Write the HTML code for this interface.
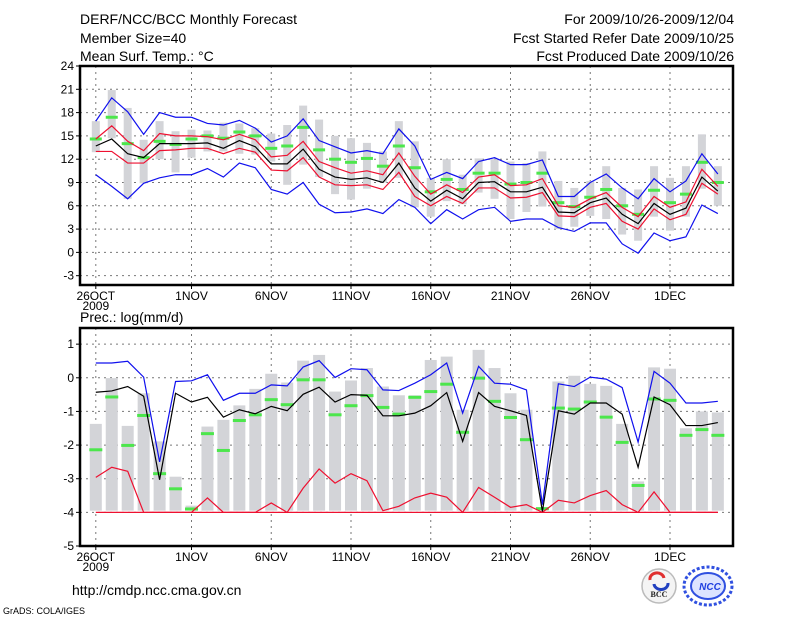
<!DOCTYPE html>
<html><head><meta charset="utf-8">
<style>
html,body{margin:0;padding:0;background:#fff;}
svg{display:block;font-family:"Liberation Sans",sans-serif;}
</style></head>
<body>
<svg id="chart" width="800" height="618" viewBox="0 0 800 618" xmlns="http://www.w3.org/2000/svg">
<g font-size="14" fill="#000">
<text x="80" y="24">DERF/NCC/BCC Monthly Forecast</text>
<text x="80" y="43">Member Size=40</text>
<text x="80" y="61">Mean Surf. Temp.: °C</text>
<text x="734" y="24" text-anchor="end">For 2009/10/26-2009/12/04</text>
<text x="734" y="43" text-anchor="end">Fcst Started Refer Date 2009/10/25</text>
<text x="734" y="61" text-anchor="end">Fcst Produced Date 2009/10/26</text>
<text x="80" y="322">Prec.: log(mm/d)</text>
</g>
<g id="topPanel"></g>
<g id="botPanel"></g>
<text x="72" y="595" font-size="14">http://cmdp.ncc.cma.gov.cn</text>
<text x="3" y="614" font-size="9">GrADS: COLA/IGES</text>
<g>
<circle cx="659" cy="586" r="17" fill="#f4f4f4" stroke="#bbb" stroke-width="1.5"/>
<path d="M650 580 a7 6 0 0 1 14 -2" fill="none" stroke="#e03030" stroke-width="3"/>
<path d="M654 584 a7 6 0 0 0 14 -1" fill="none" stroke="#2040c0" stroke-width="3"/>
<text x="659" y="597" font-size="8" font-weight="bold" text-anchor="middle" font-family="Liberation Serif,serif" fill="#222">BCC</text>
</g>
<g>
<ellipse cx="708" cy="586" rx="24" ry="19" fill="none" stroke="#3050e0" stroke-width="3" stroke-dasharray="3 2"/>
<ellipse cx="708" cy="586" rx="17" ry="13" fill="#dde4ff" stroke="#3050e0" stroke-width="2"/>
<text x="710" y="590" font-size="10" font-weight="bold" font-style="italic" text-anchor="middle" fill="#2040e0">NCC</text>
</g>
</svg>
<script>
// ---- shared x categories ----
const days = ['26OCT','27OCT','28OCT','29OCT','30OCT','31OCT','1NOV','2NOV','3NOV','4NOV','5NOV','6NOV','7NOV','8NOV','9NOV','10NOV','11NOV','12NOV','13NOV','14NOV','15NOV','16NOV','17NOV','18NOV','19NOV','20NOV','21NOV','22NOV','23NOV','24NOV','25NOV','26NOV','27NOV','28NOV','29NOV','30NOV','1DEC','2DEC','3DEC','4DEC'];
const xTickLabels = ['26OCT','1NOV','6NOV','11NOV','16NOV','21NOV','26NOV','1DEC'];
const xTickIdx = [0,6,11,16,21,26,31,36];
// ---- temperature panel ----
const tTicks = [24,21,18,15,12,9,6,3,0,-3];
const tGrayHi = [16.9,20.9,18.6,14.5,16.9,15.6,15.8,15.7,16.7,16.6,16.0,15.3,16.4,18.9,17.1,15.0,14.7,14.1,13.0,16.9,14.3,9.6,12.0,10.0,12.1,12.0,11.7,11.5,13.0,9.2,8.3,9.2,11.1,8.3,8.1,11.1,9.6,11.1,15.2,11.1];
const tGrayLo = [12.9,14.7,6.9,8.9,12.0,10.3,12.2,13.0,13.0,12.7,12.6,11.7,8.7,11.3,9.7,7.5,6.8,8.2,9.0,9.6,5.8,4.6,6.6,6.2,7.7,6.9,4.3,5.2,5.9,3.0,3.3,4.7,4.3,2.3,1.5,4.6,2.8,4.6,8.2,6.0];
const tGreen = [14.6,17.4,14.0,12.2,14.3,13.9,14.6,15.0,14.7,15.5,15.0,13.4,13.7,16.1,13.2,12.0,11.6,12.1,11.1,13.7,10.9,7.8,9.4,8.1,10.2,10.2,8.8,9.0,10.2,6.4,5.9,7.1,8.1,6.0,4.9,8.0,6.4,7.5,11.6,9.0];
const tMean = [13.7,14.6,12.7,12.2,14.0,14.0,14.0,14.1,13.4,14.4,13.6,11.4,11.4,13.3,10.7,9.7,9.4,9.6,9.0,11.5,8.3,6.6,8.0,6.9,9.0,9.1,7.8,7.8,8.4,5.2,5.1,6.4,7.0,4.9,3.7,6.3,4.9,5.7,9.7,7.9];
const tRedHi = [14.6,16.3,14.3,13.1,15.3,15.0,15.0,14.9,14.5,15.2,14.5,12.3,12.5,14.3,11.7,10.9,10.2,10.5,10.0,12.8,9.8,7.5,8.7,7.7,9.7,10.0,8.6,8.7,9.5,6.0,5.8,6.9,7.7,5.8,4.6,7.2,5.8,6.5,10.7,8.5];
const tRedLo = [13.0,13.0,11.5,11.5,13.1,13.2,13.4,13.4,12.7,13.4,12.9,10.6,10.5,12.2,9.7,8.7,8.6,8.7,8.1,10.3,7.2,6.0,7.2,6.3,8.3,8.3,7.0,7.1,7.7,4.7,4.6,5.8,6.3,4.0,3.0,5.6,4.2,4.9,8.9,7.5];
const tBlueHi = [16.9,19.9,18.1,15.2,18.0,17.4,17.4,16.6,16.4,17.0,16.0,14.2,15.0,17.2,14.4,13.6,12.8,13.1,12.7,15.9,13.7,9.4,10.3,9.5,11.7,12.2,11.3,11.3,11.9,7.2,7.2,9.0,10.1,8.3,6.9,9.5,7.8,9.2,12.7,10.1];
const tBlueLo = [10.0,8.5,6.9,8.9,9.6,10.0,10.0,10.8,9.7,11.5,10.9,8.1,7.5,9.0,6.2,5.1,5.2,5.6,5.0,6.8,5.8,3.7,5.5,4.3,5.5,5.8,4.0,4.3,4.3,3.2,2.7,3.8,3.8,1.1,-0.1,2.5,1.5,2.0,6.1,5.0];
// ---- precipitation panel ----
const pTicks = [1,0,-1,-2,-3,-4,-5];
const pGrayTop = [-1.37,-0.01,-1.43,-0.46,-1.89,-2.94,-3.8,-1.45,-1.25,-0.82,-0.33,0.12,-0.14,0.51,0.68,-0.41,-0.08,0.29,-0.26,-0.52,-0.52,0.53,0.63,-0.95,0.83,0.29,-0.46,-0.95,-3.87,-0.11,0.06,-0.18,-0.24,-1.37,-3.08,0.31,0.27,-1.5,-1.0,-1.03];
const pGreen = [-2.14,-0.57,-2.01,-1.12,-2.85,-3.3,-3.9,-1.66,-2.16,-1.27,-1.1,-0.65,-0.8,-0.06,-0.06,-1.1,-0.83,-0.53,-0.88,-1.08,-0.58,-0.41,-0.19,-1.62,-0.01,-0.7,-1.18,-1.84,-3.89,-0.9,-0.93,-0.72,-1.17,-1.92,-3.2,-0.63,-0.67,-1.71,-1.54,-1.71];
const pMean = [-0.43,-0.39,-0.26,-0.55,-3.03,-0.46,-0.72,-0.58,-1.17,-0.95,-1.07,-0.85,-0.98,-0.49,-0.28,-0.72,-0.5,-0.52,-1.13,-1.13,-1.05,-0.83,-0.44,-1.89,-0.44,-0.85,-0.98,-1.12,-3.97,-0.98,-1.08,-0.75,-0.75,-1.08,-2.66,-0.57,-0.8,-1.42,-1.42,-1.33];
const pBlueHi = [0.44,0.44,0.49,0.02,-2.5,-0.11,-0.09,0.09,-0.67,-0.46,-0.46,-0.21,-0.24,0.32,0.51,0.01,0.27,0.24,-0.36,-0.38,-0.16,0.09,0.44,-1.05,0.34,-0.16,-0.19,-0.36,-3.77,-0.18,-0.26,0.02,-0.04,-0.29,-1.91,0.19,-0.16,-0.75,-0.75,-0.7];
const pRedHi = [-2.96,-2.66,-2.78,-4,-4,-4,-4,-3.57,-4,-4,-4,-3.72,-4,-3.28,-2.71,-3.13,-2.85,-3.06,-3.95,-3.82,-3.57,-3.43,-3.55,-4,-3.26,-3.55,-3.85,-3.77,-4,-3.64,-3.72,-3.5,-3.35,-3.77,-4,-3.39,-4,-4,-4,-4];
const pRedLo = [-4,-4,-4,-4,-4,-4,-4,-4,-4,-4,-4,-4,-4,-4,-4,-4,-4,-4,-4,-4,-4,-4,-4,-4,-4,-4,-4,-4,-4,-4,-4,-4,-4,-4,-4,-4,-4,-4,-4,-4];
const pBase = -3.95;

const NS='http://www.w3.org/2000/svg';
function mk(tag,attrs,parent){const e=document.createElementNS(NS,tag);for(const k in attrs)e.setAttribute(k,attrs[k]);parent.appendChild(e);return e;}
const X0=80,X1=733;
function xs(i){return 95.8+15.95*i;}

function panel(g,pTop,pBot,vTop,vBot,ticks,drawFn){
  const ys=v=>pTop+(vTop-v)*(pBot-pTop)/(vTop-vBot);
  ticks.forEach(t=>{
    const y=ys(t);
    if(y>pTop+1&&y<pBot-1){const l=mk('line',{x1:X0,x2:X1,y1:y,y2:y,stroke:'#777','stroke-dasharray':'2 4','stroke-width':1},g);
    
    }
    const tk=mk('line',{x1:X0-4,x2:X0,y1:y,y2:y,stroke:'#000'},g);
    
    
    const tx=mk('text',{x:X0-6,y:y+4,'font-size':12,'text-anchor':'end'},g);
    
    
    tx.textContent=t;
  });
  xTickIdx.forEach((d,k)=>{
    const x=xs(d);
    const l=mk('line',{x1:x,x2:x,y1:pTop,y2:pBot,stroke:'#777','stroke-dasharray':'2 4'},g);
    
    
    const tk=mk('line',{x1:x,x2:x,y1:pBot,y2:pBot+4,stroke:'#000'},g);
    
    
    const tx=mk('text',{x:x,y:pBot+15,'font-size':12,'text-anchor':'middle'},g);
    
    
    tx.textContent=xTickLabels[k];
  });
  const yr=mk('text',{x:xs(0),y:pBot+25,'font-size':12,'text-anchor':'middle'},g);
  
  
  yr.textContent='2009';
  drawFn(ys);
  const fr=mk('rect',{x:X0,y:pTop,width:X1-X0,height:pBot-pTop,fill:'none',stroke:'#000','stroke-width':2.5},g);
  
  
}
function line(g,arr,ys,color,name){
  const p=mk('polyline',{points:arr.map((v,i)=>xs(i)+','+ys(v)).join(' '),fill:'none',stroke:color,'stroke-width':1.2},g);
  
  
}
function greens(g,arr,ys,w){
  arr.forEach((v,i)=>{
    const r=mk('rect',{x:xs(i)-w/2,y:ys(v)-1.5,width:w,height:3,fill:'#4ce64c'},g);
    
    
  });
}

const topG=document.getElementById('topPanel');
panel(topG,66,285,24,-4.2,tTicks,ys=>{
  tGrayHi.forEach((h,i)=>{
    const r=mk('rect',{x:xs(i)-4,y:ys(h),width:8,height:ys(tGrayLo[i])-ys(h),fill:'#d3d4d8'},topG);
    
    
  });
  greens(topG,tGreen,ys,12);
  line(topG,tBlueHi,ys,'#1010ee','blue-upper-line');
  line(topG,tBlueLo,ys,'#1010ee','blue-lower-line');
  line(topG,tRedHi,ys,'#ee1030','red-upper-line');
  line(topG,tRedLo,ys,'#ee1030','red-lower-line');
  line(topG,tMean,ys,'#000','ensemble-mean-line');
});
const botG=document.getElementById('botPanel');
panel(botG,328,546,1.48,-5,pTicks,ys=>{
  pGrayTop.forEach((h,i)=>{
    const r=mk('rect',{x:xs(i)-6,y:ys(h),width:12,height:ys(pBase)-ys(h),fill:'#d3d4d8'},botG);
    
    
  });
  greens(botG,pGreen,ys,13);
  line(botG,pRedLo,ys,'#ee1030','red-lower-line');
  line(botG,pRedHi,ys,'#ee1030','red-upper-line');
  line(botG,pBlueHi,ys,'#1010ee','blue-upper-line');
  line(botG,pMean,ys,'#000','ensemble-mean-line');
});
</script>
</body></html>
